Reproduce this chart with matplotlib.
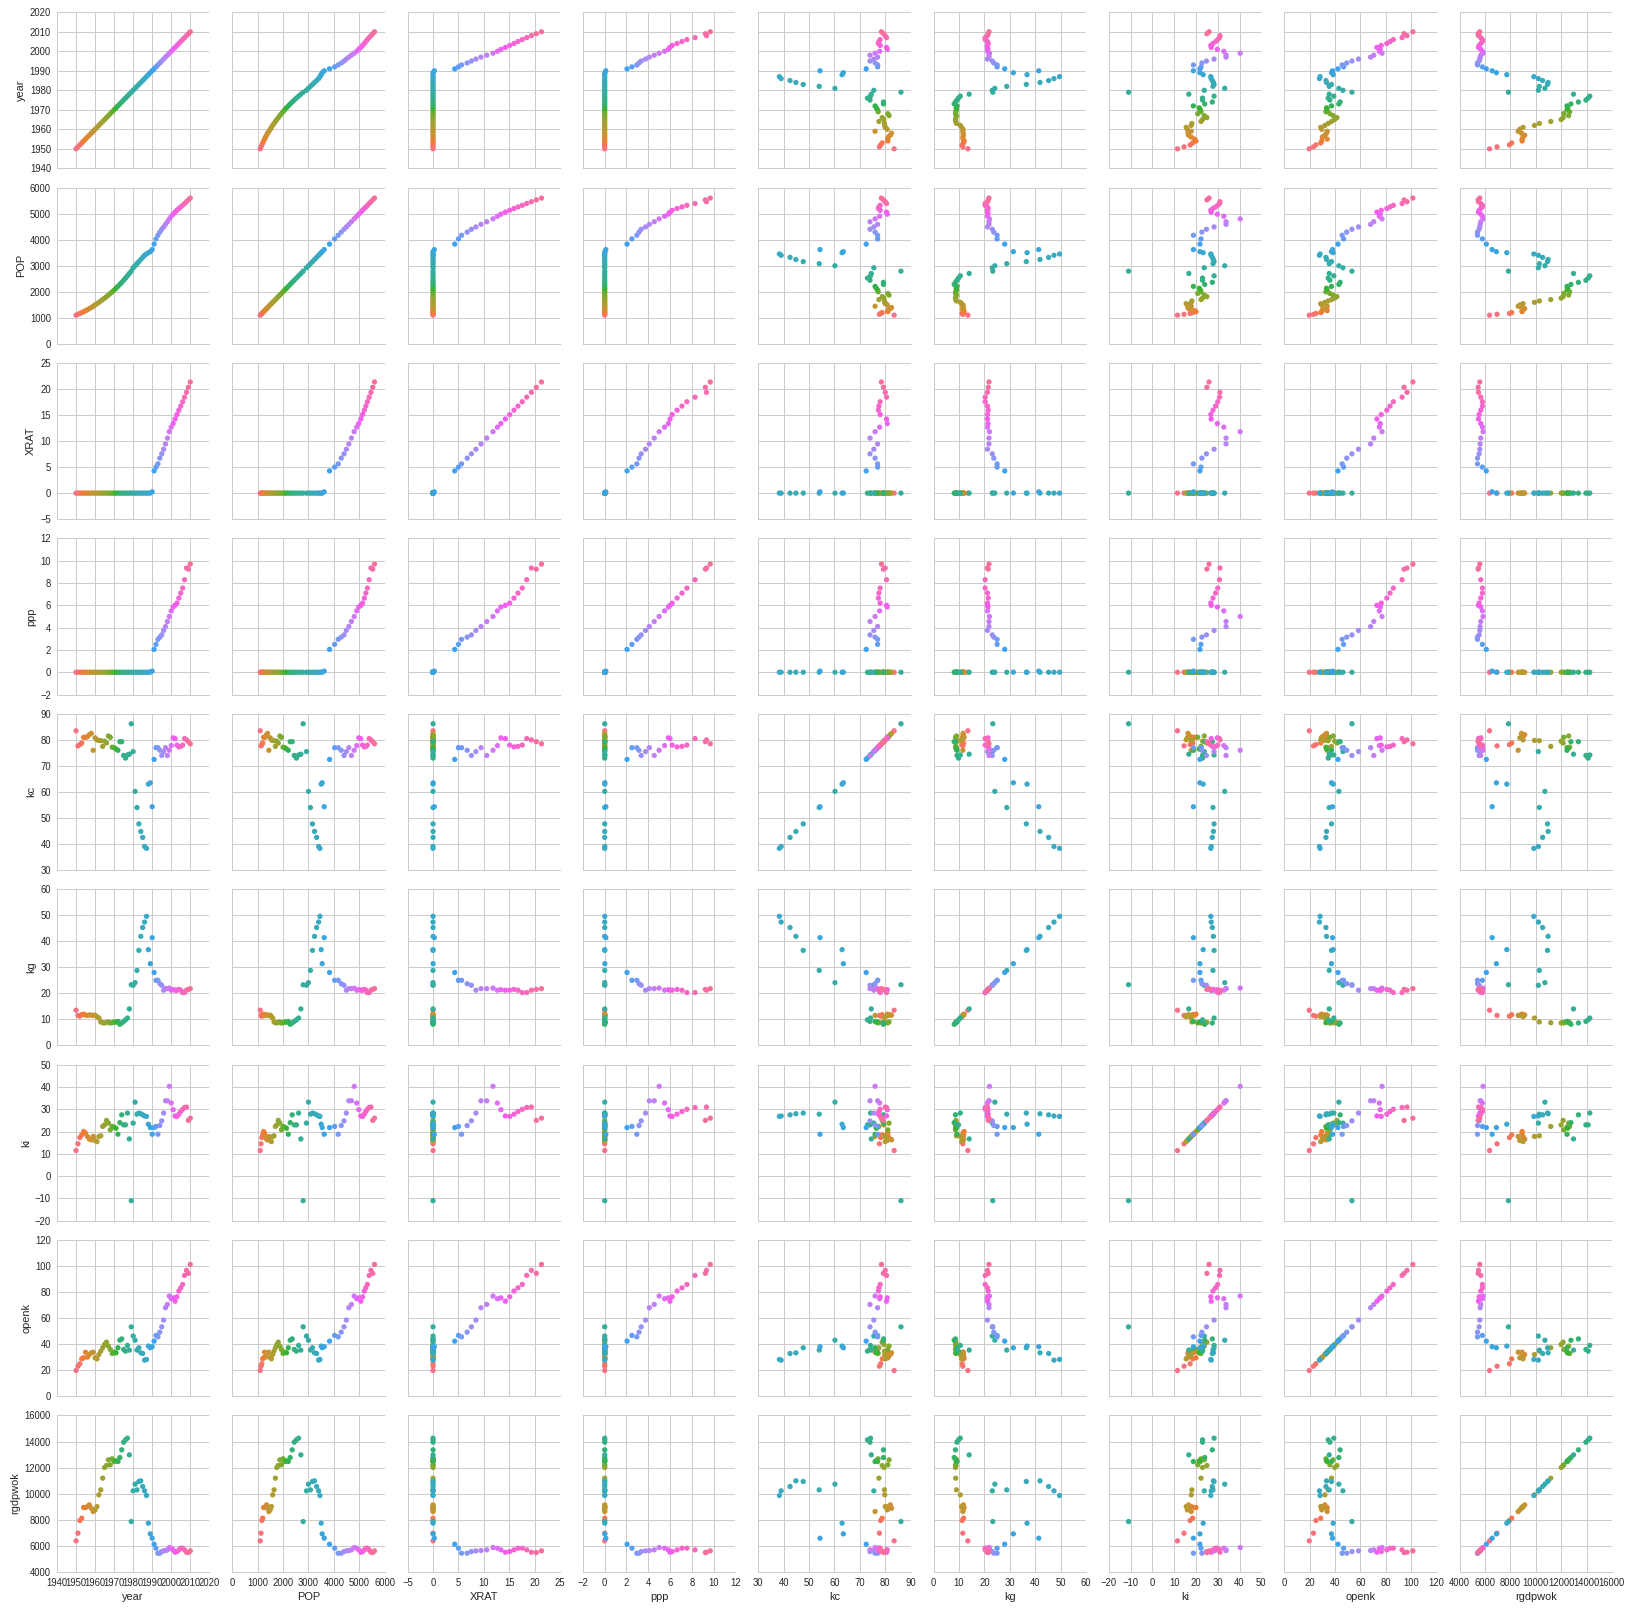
import numpy as np
import matplotlib.pyplot as plt
from matplotlib.ticker import MultipleLocator

try:
    import seaborn as sns
    _have_sns = True
except ImportError:
    _have_sns = False

# --- data (one per year 1950-2010) ---
year = np.arange(1950, 2011)

POP = [1098, 1130, 1163, 1197, 1233, 1270, 1309, 1349, 1390, 1440,
       1493, 1540, 1590, 1643, 1697, 1753, 1811, 1871, 1933, 1997,
       2063, 2132, 2204, 2280, 2359, 2440, 2524, 2611, 2700, 2790,
       2920, 2998, 3077, 3157, 3238, 3320, 3400, 3450, 3500, 3540,
       3620, 3830, 4030, 4170, 4290, 4400, 4490, 4590, 4690, 4800,
       4900, 4980, 5060, 5130, 5200, 5260, 5320, 5390, 5460, 5530,
       5600]

XRAT = [0.0, 0.0, 0.0, 0.0, 0.0, 0.0, 0.0, 0.0, 0.0, 0.0,
        0.0, 0.0, 0.0, 0.0, 0.0, 0.0, 0.0, 0.0, 0.0, 0.0,
        0.0, 0.0, 0.0, 0.0, 0.0, 0.0, 0.0, 0.0, 0.0, 0.0,
        0.0, 0.0, 0.0, 0.0, 0.0, 0.0, 0.0, 0.0, 0.0, 0.01,
        0.25, 4.27, 5.0, 5.62, 6.72, 7.55, 8.44, 9.45, 10.58, 11.81,
        12.68, 13.37, 14.25, 15.1, 15.94, 16.73, 17.57, 18.45, 19.37, 20.34,
        21.36]

ppp = [0.0, 0.0, 0.0, 0.0, 0.0, 0.0, 0.0, 0.0, 0.0, 0.0,
       0.0, 0.0, 0.0, 0.0, 0.0, 0.0, 0.0, 0.0, 0.0, 0.0,
       0.0, 0.0, 0.0, 0.0, 0.0, 0.0, 0.0, 0.0, 0.0, 0.0,
       0.0, 0.0, 0.0, 0.0, 0.0, 0.0, 0.0, 0.0, 0.0, 0.01,
       0.1, 2.05, 2.5, 2.95, 3.15, 3.35, 3.75, 4.1, 4.55, 5.0,
       5.5, 5.85, 6.0, 6.2, 6.65, 7.1, 7.55, 8.3, 9.35, 9.25,
       9.7]

kc = [83.5, 77.7, 78.2, 78.8, 81.0, 81.0, 81.2, 82.0, 82.5, 76.0,
      80.8, 80.0, 79.8, 79.7, 77.5, 79.5, 78.8, 81.5, 81.0, 77.2,
      77.0, 76.5, 76.0, 79.3, 79.3, 74.0, 73.0, 74.2, 74.5, 86.2,
      75.5, 60.2, 54.0, 47.7, 44.8, 42.5, 39.0, 38.3, 63.0, 63.5,
      54.3, 72.5, 77.0, 77.0, 76.0, 74.0, 75.5, 77.0, 74.0, 76.0,
      77.8, 80.8, 80.5, 78.0, 77.3, 77.5, 78.0, 80.5, 80.0, 79.3,
      78.5]

kg = [13.5, 11.5, 11.2, 11.8, 12.0, 11.6, 11.5, 11.7, 11.6, 11.5,
      11.6, 11.0, 10.5, 9.0, 8.7, 8.6, 8.8, 9.0, 8.6, 8.7,
      9.0, 8.9, 9.2, 8.1, 8.6, 9.2, 9.8, 10.5, 14.0, 23.3,
      23.1, 24.1, 28.8, 36.5, 41.9, 45.3, 47.4, 49.6, 36.8, 31.4,
      41.4, 28.0, 25.0, 25.0, 23.7, 23.1, 21.2, 21.8, 21.8, 22.0,
      21.2, 21.4, 21.2, 21.2, 21.5, 21.2, 20.3, 20.3, 21.2, 21.5,
      21.8]

ki = [11.5, 14.5, 17.3, 18.5, 20.0, 19.3, 17.8, 16.6, 16.3, 17.8,
      16.0, 15.5, 17.8, 18.1, 22.3, 23.0, 25.0, 23.8, 20.8, 22.3,
      22.0, 21.5, 18.8, 24.0, 27.5, 23.0, 23.0, 28.3, 16.7, -11.0,
      23.8, 33.2, 27.8, 28.3, 28.0, 27.5, 27.0, 26.8, 23.3, 21.8,
      18.8, 21.8, 22.3, 18.8, 22.7, 24.8, 28.3, 33.8, 33.8, 40.3,
      32.8, 29.8, 27.0, 26.8, 27.8, 29.0, 30.0, 30.8, 31.0, 25.0,
      26.0]

openk = [19.7, 23.0, 24.9, 28.7, 29.5, 33.8, 30.0, 32.0, 33.3, 33.8,
         29.5, 28.7, 32.0, 34.6, 37.2, 39.7, 41.5, 38.5, 35.9, 32.8,
         33.8, 33.3, 37.2, 43.0, 44.0, 35.9, 34.6, 39.0, 35.4, 53.3,
         46.2, 43.0, 35.4, 37.2, 33.3, 32.8, 27.7, 28.2, 38.5, 37.2,
         38.0, 42.3, 46.7, 45.6, 49.2, 53.3, 58.5, 68.0, 70.5, 77.0,
         74.9, 75.6, 73.0, 76.4, 80.8, 83.3, 85.9, 92.8, 96.7, 94.4,
         101.3]

rgdpwok = [6359, 6949, 7923, 8103, 8923, 8923, 9000, 9128, 8872, 8615,
           8743, 9000, 9897, 10282, 11180, 12000, 12154, 12590, 12205, 12667,
           12462, 12513, 12462, 12769, 13359, 13949, 14128, 14256, 12974, 7846,
           10205, 10718, 10282, 10923, 10974, 10538, 10205, 9846, 7718, 6897,
           6564, 6103, 5795, 5410, 5410, 5538, 5590, 5615, 5667, 5846,
           5795, 5667, 5487, 5538, 5667, 5795, 5795, 5667, 5487, 5462,
           5590]

names = ['year', 'POP', 'XRAT', 'ppp', 'kc', 'kg', 'ki', 'openk', 'rgdpwok']
columns = [year, POP, XRAT, ppp, kc, kg, ki, openk, rgdpwok]
limits = [(1940, 2020), (0, 6000), (-5, 25), (-2, 12), (30, 90),
          (0, 60), (-20, 50), (0, 120), (4000, 16000)]
steps = [10, 1000, 5, 2, 10, 10, 10, 20, 2000]

# --- style ---
plt.rcParams['font.family'] = ['Liberation Sans', 'DejaVu Sans']
text_color = '#262626'
grid_color = '#cccccc'

n = len(year)
if _have_sns:
    colors = sns.husl_palette(n)
else:
    colors = plt.cm.hsv(np.linspace(0, 0.9, n))

k = len(names)
fig, axes = plt.subplots(k, k, figsize=(1633 / 72, 1613 / 72), dpi=72,
                         sharex='col', sharey='row')
fig.subplots_adjust(left=0.0349, right=0.9871, bottom=0.0257, top=0.9924,
                    wspace=0.151, hspace=0.124)

for i in range(k):
    for j in range(k):
        ax = axes[i, j]
        ax.set_axisbelow(True)
        ax.grid(True, color=grid_color, linewidth=1)
        for side in ('top', 'right'):
            ax.spines[side].set_visible(False)
        for side in ('left', 'bottom'):
            ax.spines[side].set_color(grid_color)
            ax.spines[side].set_linewidth(1)
        ax.tick_params(length=0, pad=6, labelsize=9.5, colors=text_color)
        ax.scatter(columns[j], columns[i], c=colors, s=28, linewidths=0,
                   zorder=3)

for j in range(k):
    axes[-1, j].set_xlim(*limits[j])
    axes[-1, j].xaxis.set_major_locator(MultipleLocator(steps[j]))
    axes[-1, j].set_xlabel(names[j], fontsize=11, color=text_color)
for i in range(k):
    axes[i, 0].set_ylim(*limits[i])
    axes[i, 0].yaxis.set_major_locator(MultipleLocator(steps[i]))
    axes[i, 0].set_ylabel(names[i], fontsize=11, color=text_color)

fig.savefig('out.png', dpi=72)
plt.close(fig)
